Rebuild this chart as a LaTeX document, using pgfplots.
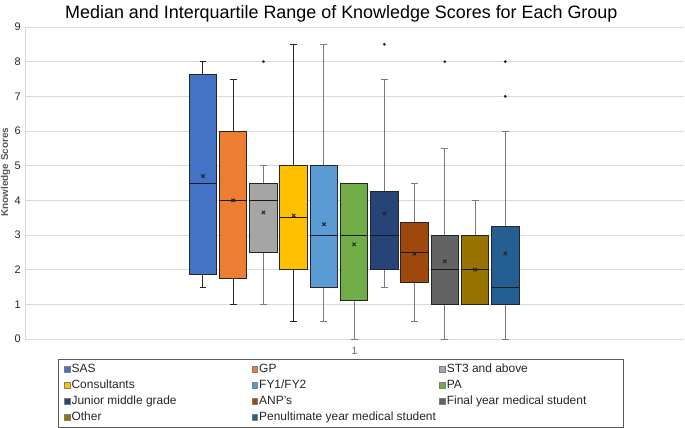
\documentclass[border=0pt]{standalone}
\usepackage{fontspec}
\setmainfont{Liberation Sans}
\usepackage{pgfplots}
\pgfplotsset{compat=1.18}
\usepgfplotslibrary{statistics}
\definecolor{c1}{HTML}{4472C4}
\definecolor{c2}{HTML}{ED7D31}
\definecolor{c3}{HTML}{A5A5A5}
\definecolor{c4}{HTML}{FFC000}
\definecolor{c5}{HTML}{5B9BD5}
\definecolor{c6}{HTML}{70AD47}
\definecolor{c7}{HTML}{264478}
\definecolor{c8}{HTML}{9E480E}
\definecolor{c9}{HTML}{636363}
\definecolor{c10}{HTML}{997300}
\definecolor{c11}{HTML}{255E91}
\definecolor{gridc}{HTML}{D9D9D9}
\definecolor{boxedge}{HTML}{262626}
\definecolor{whiskc}{HTML}{7A7A7A}
\definecolor{legc}{HTML}{595959}
\definecolor{sqedge}{HTML}{7F7F7F}
\pgfplotsset{
  boxfill/.style={fill=#1, draw=boxedge, line width=1bp, mark=*, mark size=1.2bp,
    mark options={fill=black!85, draw=black!85, line width=0.4bp}},
  darkwhisk/.style={boxplot/every whisker/.style={draw=black!85, line width=1bp}},
  legsq/.style={legend image code/.code={\draw[fill=#1, draw=sqedge, line width=0.5bp] (0bp,-2.8bp) rectangle (5.6bp,2.8bp);}},
}
\begin{document}
\begin{tikzpicture}
\begin{axis}[
  at={(0,0)}, anchor=south west,
  scale only axis, width=659bp, height=312bp,
  xmin=-4.888, xmax=16.912, ymin=0, ymax=9,
  ytick={0,1,...,9},
  xtick={6.011}, xticklabels={1},
  ymajorgrids, grid style={draw=gridc, line width=0.9bp},
  major tick length=0pt,
  axis x line*=bottom, axis y line*=left,
  axis line style={draw=gridc, line width=0.9bp, -},
  /pgf/number format/assume math mode=true,
  yticklabel style={font=\fontsize{11}{13}\selectfont, text=black!85, anchor=east, inner sep=0pt, xshift=-4bp},
  xticklabel style={font=\fontsize{10.5}{12}\selectfont, text=black!60, anchor=center, inner sep=0pt, yshift=-12bp},
  title={Median and Interquartile Range of Knowledge Scores for Each Group},
  title style={font=\fontsize{18}{21}\selectfont, at={(0.480,1)}, anchor=base, yshift=2.5bp, inner sep=0pt},
  ylabel={\fontsize{10}{12}\selectfont\bfseries Knowledge Scores},
  every axis y label/.style={at={(axis description cs:-0.0296,0.535)}, rotate=90, anchor=center, text=legc, inner sep=0pt},
  boxplot/draw direction=y,
  boxplot/box extend=0.91,
  boxplot/whisker extend=0.23,
  boxplot/every median/.style={draw=black!90, line width=1bp},
  boxplot/every whisker/.style={draw=whiskc, line width=1bp},
  boxplot/every average/.style={/tikz/mark=x, /tikz/mark size=2.4bp, /tikz/mark options={draw=black, line width=1.3bp}},
  legend columns=3,
  legend cell align=left,
  legend style={at={(0.0501,-0.0641)}, anchor=north west, draw=legc, line width=0.8bp,
    inner xsep=6bp, inner ysep=3bp, outer sep=0pt, font=\fontsize{12}{14}\selectfont, text=black!85,
    nodes={inner sep=1.5bp, text height=8.5bp, text depth=2.5bp},
    /tikz/column sep=0bp, row sep=2bp},
]
% SAS
\addplot[forget plot, boxfill=c1, darkwhisk, boxplot prepared={draw position=1, lower whisker=1.5, lower quartile=1.875, median=4.5, upper quartile=7.625, upper whisker=8, average=4.7}] coordinates {};
% GP
\addplot[forget plot, boxfill=c2, darkwhisk, boxplot prepared={draw position=2, lower whisker=1, lower quartile=1.75, median=4, upper quartile=6, upper whisker=7.5, average=4.0}] coordinates {};
% ST3 and above
\addplot[forget plot, boxfill=c3, boxplot prepared={draw position=3, lower whisker=1, lower quartile=2.5, median=4, upper quartile=4.5, upper whisker=5, average=3.65}] table[row sep=\\, y index=0] {y\\ 8\\};
% Consultants
\addplot[forget plot, boxfill=c4, darkwhisk, boxplot prepared={draw position=4, lower whisker=0.5, lower quartile=2, median=3.5, upper quartile=5, upper whisker=8.5, average=3.56}] coordinates {};
% FY1/FY2
\addplot[forget plot, boxfill=c5, boxplot prepared={draw position=5, lower whisker=0.5, lower quartile=1.5, median=3, upper quartile=5, upper whisker=8.5, average=3.31}] coordinates {};
% PA
\addplot[forget plot, boxfill=c6, boxplot prepared={draw position=6, lower whisker=0, lower quartile=1.125, median=3, upper quartile=4.5, upper whisker=4.5, average=2.73}] coordinates {};
% Junior middle grade
\addplot[forget plot, boxfill=c7, boxplot prepared={draw position=7, lower whisker=1.5, lower quartile=2, median=3, upper quartile=4.25, upper whisker=7.5, average=3.62}] table[row sep=\\, y index=0] {y\\ 8.5\\};
% ANP's
\addplot[forget plot, boxfill=c8, boxplot prepared={draw position=8, lower whisker=0.5, lower quartile=1.625, median=2.5, upper quartile=3.375, upper whisker=4.5, average=2.46}] coordinates {};
% Final year medical student
\addplot[forget plot, boxfill=c9, boxplot prepared={draw position=9, lower whisker=0, lower quartile=1, median=2, upper quartile=3, upper whisker=5.5, average=2.24}] table[row sep=\\, y index=0] {y\\ 8\\};
% Other
\addplot[forget plot, boxfill=c10, boxplot prepared={draw position=10, lower whisker=1, lower quartile=1, median=2, upper quartile=3, upper whisker=4, average=2.0}] coordinates {};
% Penultimate year medical student
\addplot[forget plot, boxfill=c11, boxplot prepared={draw position=11, lower whisker=0, lower quartile=1, median=1.5, upper quartile=3.25, upper whisker=6, average=2.47}] table[row sep=\\, y index=0] {y\\ 8\\ 7\\};

\addlegendimage{legsq=c1}  \addlegendentry{\makebox[178.5bp][l]{SAS}}
\addlegendimage{legsq=c2}  \addlegendentry{\makebox[178.5bp][l]{GP}}
\addlegendimage{legsq=c3}  \addlegendentry{\makebox[169bp][l]{ST3 and above}}
\addlegendimage{legsq=c4}  \addlegendentry{\makebox[178.5bp][l]{Consultants}}
\addlegendimage{legsq=c5}  \addlegendentry{\makebox[178.5bp][l]{FY1/FY2}}
\addlegendimage{legsq=c6}  \addlegendentry{\makebox[169bp][l]{PA}}
\addlegendimage{legsq=c7}  \addlegendentry{\makebox[178.5bp][l]{Junior middle grade}}
\addlegendimage{legsq=c8}  \addlegendentry{\makebox[178.5bp][l]{ANP's}}
\addlegendimage{legsq=c9}  \addlegendentry{\makebox[169bp][l]{Final year medical student}}
\addlegendimage{legsq=c10} \addlegendentry{\makebox[178.5bp][l]{Other}}
\addlegendimage{legsq=c11} \addlegendentry{\makebox[178.5bp][l]{Penultimate year medical student}}
\end{axis}
\pgfresetboundingbox
\useasboundingbox (-25bp,-89bp) rectangle (660bp,339bp);
\end{tikzpicture}
\end{document}
